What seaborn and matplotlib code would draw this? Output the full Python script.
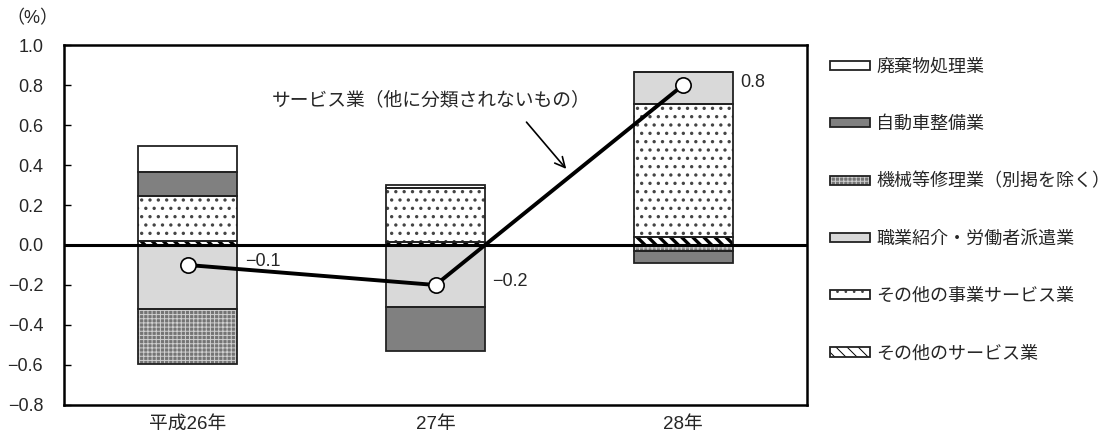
import matplotlib
matplotlib.use("Agg")
import matplotlib.pyplot as plt
from matplotlib.patches import Patch
import seaborn as sns
import numpy as np

# values (%)
years = ["平成26年", "27年", "28年"]
waste = [0.13, 0.015, 0.0]
auto_repair = [0.12, -0.22, -0.06]
machine_repair = [-0.275, 0.0, -0.03]
job_agency = [-0.32, -0.31, 0.16]
other_business = [0.225, 0.27, 0.665]
other_service = [0.02, 0.015, 0.04]
total = [-0.1, -0.2, 0.8]
total_labels = ["−0.1", "−0.2", "0.8"]
y_ticks = [-0.8, -0.6, -0.4, -0.2, 0.0, 0.2, 0.4, 0.6, 0.8, 1.0]

sns.set_theme(style="white")
plt.rcParams['font.family'] = ['Liberation Sans', 'Noto Sans CJK JP', 'DejaVu Sans']


def set_hatch_lw(patch, lw):
    try:
        patch.set_hatch_linewidth(lw)
    except AttributeError:
        patch._hatch_linewidth = lw


# stacking order from the zero line outward
series = [
    ("その他のサービス業", other_service, dict(fc="white", hatch="\\\\\\", hc="black", hlw=2.4)),
    ("その他の事業サービス業", other_business, dict(fc="white", hatch="..", hc="#444444", hlw=1.2)),
    ("職業紹介・労働者派遣業", job_agency, dict(fc="#d9d9d9", hatch=None, hc=None, hlw=1.0)),
    ("機械等修理業（別掲を除く）", machine_repair, dict(fc="#747474", hatch="++++", hc="#d0d0d0", hlw=0.7)),
    ("自動車整備業", auto_repair, dict(fc="#808080", hatch=None, hc=None, hlw=1.0)),
    ("廃棄物処理業", waste, dict(fc="white", hatch=None, hc=None, hlw=1.0)),
]

fig = plt.figure(figsize=(11.19, 4.43), dpi=100)
ax = fig.add_axes([0.0572, 0.0858, 0.664, 0.8126])

x = np.arange(len(years))
width = 0.4
pos_base = np.zeros(len(years))
neg_base = np.zeros(len(years))
handles = {}

for name, vals, st in series:
    vals = np.array(vals)
    bottoms = np.where(vals >= 0, pos_base, neg_base)
    if st["hatch"]:
        plt.rcParams['hatch.linewidth'] = st["hlw"]
        fill = ax.bar(x, vals, width, bottom=bottoms, color=st["fc"], hatch=st["hatch"],
                      edgecolor=st["hc"], linewidth=0, zorder=2)
        for p in fill:
            set_hatch_lw(p, st["hlw"])
    else:
        ax.bar(x, vals, width, bottom=bottoms, color=st["fc"], linewidth=0, zorder=2)
    ax.bar(x, vals, width, bottom=bottoms, fill=False, edgecolor="#222222", linewidth=1.3, zorder=3)
    pos_base += np.where(vals >= 0, vals, 0)
    neg_base += np.where(vals < 0, vals, 0)

    if st["hatch"]:
        hp = Patch(facecolor=st["fc"], hatch=st["hatch"], edgecolor=st["hc"], linewidth=0)
        set_hatch_lw(hp, st["hlw"])
        h = (hp, Patch(fill=False, edgecolor="#222222", linewidth=1.3))
    else:
        h = Patch(facecolor=st["fc"], edgecolor="#222222", linewidth=1.3)
    handles[name] = h

ax.axhline(0, color="black", linewidth=2.2, zorder=4)

# total line
sns.lineplot(x=x, y=total, ax=ax, color="black", linewidth=2.8, marker="o",
             markersize=11, markerfacecolor="white", markeredgecolor="black",
             markeredgewidth=1.2, zorder=6, legend=False)

for xi, yi, lab in zip(x, total, total_labels):
    ax.text(xi + width / 2 + 0.03, yi + 0.015, lab, fontsize=13, va="center", ha="left", zorder=7)

ax.text(0.34, 0.725, "サービス業（他に分類されないもの）", fontsize=13.5, va="center", ha="left")
ax.annotate("", xy=(1.535, 0.37), xytext=(1.36, 0.625),
            arrowprops=dict(arrowstyle="->", color="black", lw=1.2, mutation_scale=18))

ax.set_xlim(-0.5, 2.5)
ax.set_ylim(-0.8, 1.0)
ax.set_yticks(y_ticks)
ax.set_yticklabels([f"{v:.1f}".replace("-", "−") for v in y_ticks], fontsize=13)
ax.set_xticks(x)
ax.set_xticklabels(years, fontsize=13.5)
ax.set_xticks([0.5, 1.5], minor=True)
ax.tick_params(axis="x", which="major", length=0, pad=8)
ax.tick_params(axis="x", which="minor", direction="in", length=5, width=1, color="black")
ax.tick_params(axis="y", direction="in", length=5, width=1, color="black", left=True, pad=15)
for s in ax.spines.values():
    s.set_color("black")
    s.set_linewidth(1.8)
ax.grid(False)

fig.text(0.006, 0.958, "（%）", fontsize=13, va="center", ha="left")

order = ["廃棄物処理業", "自動車整備業", "機械等修理業（別掲を除く）",
         "職業紹介・労働者派遣業", "その他の事業サービス業", "その他のサービス業"]
fig.legend([handles[k] for k in order], order, loc="upper left",
           bbox_to_anchor=(0.7276, 0.904), frameon=False, fontsize=13,
           handlelength=2.2, handleheight=0.4, handletextpad=0.35, labelspacing=2.23)

fig.savefig("out.png", dpi=100)
